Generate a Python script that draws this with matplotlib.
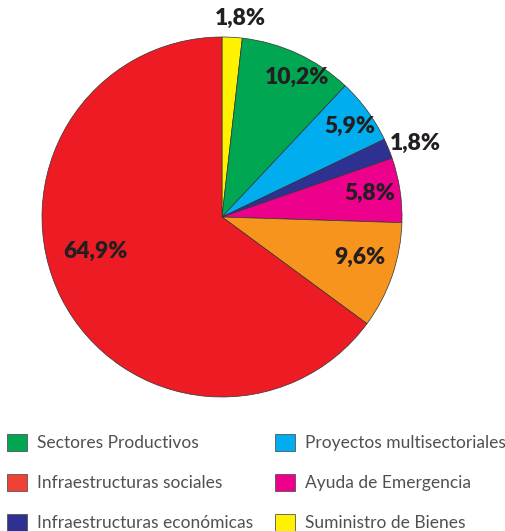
import numpy as np
import matplotlib
matplotlib.use("Agg")
import matplotlib.pyplot as plt
from matplotlib.patches import Patch

# slices, clockwise from the top
shares = [1.8, 10.2, 5.9, 1.8, 5.8, 9.6, 64.9]
share_labels = ["1,8%", "10,2%", "5,9%", "1,8%", "5,8%", "9,6%", "64,9%"]
slice_colors = ["#FFF200", "#00A651", "#00AEEF", "#2E3192", "#EC008C", "#F7941D", "#ED1C24"]

legend_names = ["Sectores Productivos", "Infraestructuras sociales", "Infraestructuras económicas",
                "Proyectos multisectoriales", "Ayuda de Emergencia", "Suministro de Bienes"]
legend_colors = ["#00A651", "#EF4136", "#2E3192", "#00AEEF", "#EC008C", "#FFF200"]

# label radius (in pie radii) and angle nudge (deg) per slice
label_r = [1.11, 0.88, 0.87, 1.15, 0.83, 0.80, 0.73]
label_dang = [-2, -3.5, -1, -1.4, 0.5, 2.7, -11.5]

fig = plt.figure(figsize=(5.05, 5.31), dpi=100)
ax = fig.add_axes([42 / 505, 134 / 531, 360 / 505, 360 / 531])

wedges, _ = ax.pie(shares, colors=slice_colors, startangle=90, counterclock=False,
                   wedgeprops=dict(edgecolor="#333333", linewidth=0.5))
ax.set_xlim(-1, 1)
ax.set_ylim(-1, 1)
ax.set_aspect("equal")
ax.axis("off")

for w, txt, r, da in zip(wedges, share_labels, label_r, label_dang):
    ang = np.deg2rad((w.theta1 + w.theta2) / 2 + da)
    ax.text(r * np.cos(ang), r * np.sin(ang), txt, ha="center", va="center",
            fontsize=16.5, fontweight="heavy", family="Lato", color="#231F20")

handles = [Patch(facecolor=c, edgecolor="#555555", linewidth=0.6) for c in legend_colors]
fig.legend(handles, legend_names, loc="upper left", bbox_to_anchor=(0.014, 0.183),
           ncol=2, frameon=False, prop=dict(family="Lato", size=12.5, weight="normal"),
           labelcolor="#505050", handlelength=1.15, handleheight=1.15, handletextpad=0.55,
           columnspacing=1.3, labelspacing=1.3, borderaxespad=0, borderpad=0)

fig.savefig("out.png", dpi=100)
